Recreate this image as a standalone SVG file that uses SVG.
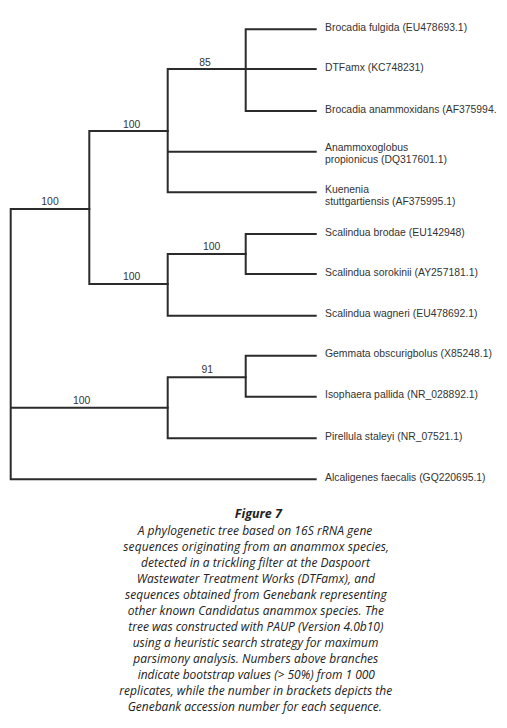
<svg xmlns="http://www.w3.org/2000/svg" width="507" height="728" viewBox="0 0 507 728">
<style>
.b{stroke:#2b2b2b;stroke-width:2;fill:none;stroke-linecap:square}
.t{font-family:"Liberation Sans",Arial,sans-serif;font-size:10.4px;fill:#333}
.n{font-family:"Liberation Sans",Arial,sans-serif;font-size:10.4px;fill:#333;text-anchor:middle}
.c{font-family:"Open Sans","Noto Sans",sans-serif;font-style:italic;font-size:12px;fill:#222;text-anchor:middle}
.h{font-family:"Open Sans","Noto Sans",sans-serif;font-style:italic;font-weight:bold;font-size:12.5px;fill:#222;text-anchor:middle}
</style>
<rect width="507" height="728" fill="#fff"/>
<g id="connectors">
<path class="b" d="M10.7,209 V479.3 M10.7,209 H89.3 M10.7,407.7 H167.7 M10.7,479.3 H315.7"/>
<path class="b" d="M89.3,131 V284 M89.3,131 H167.7 M89.3,284 H167.7"/>
<path class="b" d="M167.7,69 V192.3 M167.7,69 H315.7 M167.7,151.7 H315.7 M167.7,192.3 H315.7"/>
<path class="b" d="M245.7,29.3 V111 M245.7,29.3 H315.7 M245.7,111 H315.7"/>
<path class="b" d="M167.7,254 V315.7 M167.7,254 H245.7 M167.7,315.7 H315.7"/>
<path class="b" d="M245.7,234 V274 M245.7,234 H315.7 M245.7,274 H315.7"/>
<path class="b" d="M167.7,377.3 V438.3 M167.7,377.3 H245.7 M167.7,438.3 H315.7"/>
<path class="b" d="M245.7,355.7 V396.7 M245.7,355.7 H315.7 M245.7,396.7 H315.7"/>
</g>
<g id="bootstrap">
<text class="n" x="205" y="65.5">85</text>
<text class="n" x="131.7" y="127.5">100</text>
<text class="n" x="50" y="205">100</text>
<text class="n" x="211.7" y="250">100</text>
<text class="n" x="131.7" y="280">100</text>
<text class="n" x="207.3" y="373">91</text>
<text class="n" x="81.7" y="403.5">100</text>
</g>
<g id="n1"><text class="t" x="325" y="30.5">Brocadia fulgida (EU478693.1)</text></g>
<g id="n2"><text class="t" x="325" y="70.5">DTFamx (KC748231)</text></g>
<g id="n3"><text class="t" x="325" y="112.5">Brocadia anammoxidans (AF375994.</text></g>
<g id="n4"><text class="t" x="325" y="151"><tspan x="325">Anammoxoglobus</tspan><tspan x="325" dy="12">propionicus (DQ317601.1)</tspan></text></g>
<g id="n5"><text class="t" x="325" y="192.5"><tspan x="325">Kuenenia</tspan><tspan x="325" dy="12">stuttgartiensis (AF375995.1)</tspan></text></g>
<g id="n6"><text class="t" x="325" y="235.5">Scalindua brodae (EU142948)</text></g>
<g id="n7"><text class="t" x="325" y="275.5">Scalindua sorokinii (AY257181.1)</text></g>
<g id="n8"><text class="t" x="325" y="317">Scalindua wagneri (EU478692.1)</text></g>
<g id="n9"><text class="t" x="325" y="357">Gemmata obscurigbolus (X85248.1)</text></g>
<g id="n10"><text class="t" x="325" y="398">Isophaera pallida (NR_028892.1)</text></g>
<g id="n11"><text class="t" x="325" y="439.5">Pirellula staleyi (NR_07521.1)</text></g>
<g id="n12"><text class="t" x="325" y="480.5">Alcaligenes faecalis (GQ220695.1)</text></g>
<g id="caption">
<text class="h" x="258.3" y="518.3">Figure 7</text>
<text class="c" x="255" y="535" textLength="234.7">A phylogenetic tree based on 16S rRNA gene</text>
<text class="c" x="256.2" y="551" textLength="265.7">sequences originating from an anammox species,</text>
<text class="c" x="255.5" y="567" textLength="229">detected in a trickling filter at the Daspoort</text>
<text class="c" x="255.8" y="583" textLength="238.3">Wastewater Treatment Works (DTFamx), and</text>
<text class="c" x="255.8" y="599" textLength="261.7">sequences obtained from Genebank representing</text>
<text class="c" x="255.8" y="615" textLength="256.3">other known Candidatus anammox species. The</text>
<text class="c" x="255.8" y="631" textLength="255">tree was constructed with PAUP (Version 4.0b10)</text>
<text class="c" x="255.5" y="647" textLength="245.7">using a heuristic search strategy for maximum</text>
<text class="c" x="255.8" y="663" textLength="245">parsimony analysis. Numbers above branches</text>
<text class="c" x="256.3" y="679" textLength="237.3">indicate bootstrap values (&gt; 50%) from 1 000</text>
<text class="c" x="255.8" y="695" textLength="273">replicates, while the number in brackets depicts the</text>
<text class="c" x="254.7" y="711" textLength="254">Genebank accession number for each sequence.</text>
</g>
</svg>
